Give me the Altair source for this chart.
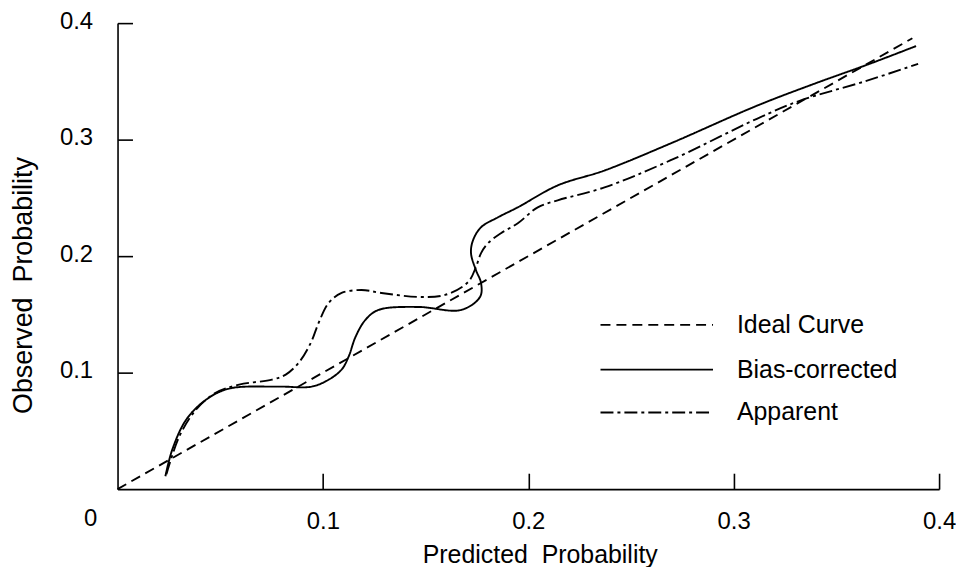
import altair as alt
import pandas as pd

# ---- data ----
series_names = ["Ideal Curve", "Bias-corrected", "Apparent"]
series_dash = [[10, 6], [1, 0], [13, 4, 3, 4]]

ideal_x = [0.0, 0.387]
ideal_y = [0.0, 0.387]

bias_x = [0.0233, 0.0267, 0.0335, 0.0432, 0.0543, 0.0785, 0.0945, 0.1028, 0.1091, 0.1125,
          0.1159, 0.1207, 0.1270, 0.1464, 0.1673, 0.1765, 0.1770, 0.1745, 0.1721, 0.1731,
          0.1770, 0.1852, 0.1949, 0.2143, 0.2371, 0.2691, 0.3113, 0.3404, 0.3661, 0.3888]
bias_y = [0.0111, 0.0342, 0.0598, 0.0769, 0.0863, 0.0880, 0.0880, 0.0940, 0.1026, 0.1137,
          0.1308, 0.1453, 0.1538, 0.1564, 0.1538, 0.1650, 0.1769, 0.1880, 0.2026, 0.2137,
          0.2248, 0.2333, 0.2419, 0.2607, 0.2735, 0.2966, 0.3291, 0.3487, 0.3650, 0.3803]

app_x = [0.0238, 0.0301, 0.0383, 0.0480, 0.0592, 0.0752, 0.0819, 0.0882, 0.0941, 0.0979,
         0.1028, 0.1091, 0.1188, 0.1285, 0.1464, 0.1595, 0.1707, 0.1745, 0.1770, 0.1804,
         0.1867, 0.1949, 0.2046, 0.2143, 0.2371, 0.2691, 0.3113, 0.3321, 0.3646, 0.3898]
app_y = [0.0128, 0.0453, 0.0684, 0.0829, 0.0897, 0.0940, 0.0983, 0.1085, 0.1256, 0.1427,
         0.1598, 0.1684, 0.1709, 0.1684, 0.1650, 0.1667, 0.1778, 0.1906, 0.2026, 0.2111,
         0.2197, 0.2282, 0.2419, 0.2479, 0.2590, 0.2821, 0.3179, 0.3333, 0.3504, 0.3650]

x_ticks = [0.1, 0.2, 0.3, 0.4]
y_ticks = [0.1, 0.2, 0.3, 0.4]
origin_label = ["0"]
x_title = "Predicted\u00a0 Probability"
y_title = "Observed\u00a0 Probability"

# ---- build table ----
rows = []
for name, xs, ys in zip(series_names, [ideal_x, bias_x, app_x], [ideal_y, bias_y, app_y]):
    for i, (xv, yv) in enumerate(zip(xs, ys)):
        rows.append({"series": name, "x": xv, "y": yv, "order": i})
df = pd.DataFrame(rows)
origin_df = pd.DataFrame({"x": [0.0], "y": [0.0], "t": origin_label})

FONT = "Liberation Sans"
W, H = 825, 468

xscale = alt.Scale(domain=[0, 0.4], nice=False, zero=False)
yscale = alt.Scale(domain=[0, 0.4], nice=False, zero=False)

lines = alt.Chart(df).mark_line(color="black", strokeWidth=1.9, interpolate="catmull-rom").encode(
    x=alt.X("x:Q", scale=xscale, axis=alt.Axis(
        orient="bottom", values=x_ticks, format=".1f", ticks=False, tickSize=0,
        domain=True, domainColor="black", domainWidth=1.6, grid=False,
        labelFont=FONT, labelFontSize=24, labelColor="black", labelPadding=40,
        labelBaseline="alphabetic", labelFlush=False,
        title=x_title, titleFont=FONT, titleFontSize=25,
        titleFontWeight="normal", titleColor="black", titleX=424, titleY=74,
        titleAlign="center", titleBaseline="alphabetic")),
    y=alt.Y("y:Q", scale=yscale, axis=alt.Axis(
        orient="left", values=y_ticks, format=".1f", ticks=False, tickSize=0,
        domain=True, domainColor="black", domainWidth=1.6, grid=False,
        labelFont=FONT, labelFontSize=24, labelColor="black", labelPadding=25,
        labelAlign="right", labelBaseline="alphabetic", labelOffset=5, labelFlush=False,
        title=y_title, titleFont=FONT, titleFontSize=27,
        titleFontWeight="normal", titleColor="black", titleAngle=270,
        titleX=-86, titleY=263, titleAlign="center", titleBaseline="alphabetic")),
    strokeDash=alt.StrokeDash("series:N",
        scale=alt.Scale(domain=series_names, range=series_dash), legend=None),
    order="order:Q",
)

# "0" label at the origin, plus inward-pointing tick marks drawn by extra axes
origin = alt.Chart(origin_df).mark_text(
    font=FONT, fontSize=24, color="black", dx=-27, dy=37,
    align="center", baseline="alphabetic").encode(
    x=alt.X("x:Q", scale=xscale, axis=alt.Axis(
        orient="top", offset=-H, values=x_ticks, labels=False, domain=False,
        ticks=True, tickSize=16, tickWidth=1.6, tickColor="black", grid=False, title=None)),
    y=alt.Y("y:Q", scale=yscale, axis=alt.Axis(
        orient="right", offset=-W, values=y_ticks, labels=False, domain=False,
        ticks=True, tickSize=15, tickWidth=1.6, tickColor="black", grid=False, title=None)),
    text="t:N",
)

# legend drawn as key lines with labels
legend_layers = []
LEG_X0, LEG_X1, LEG_TX = 485, 598, 622
legend_rows_y = [303, 348, 391]
for name, dash, ly in zip(series_names, series_dash, legend_rows_y):
    legend_layers.append(
        alt.Chart(origin_df).mark_rule(color="black", strokeWidth=1.9, strokeDash=dash).encode(
            x=alt.value(LEG_X0), x2=alt.value(LEG_X1), y=alt.value(ly)))
    legend_layers.append(
        alt.Chart(origin_df).mark_text(font=FONT, fontSize=25, color="black",
                                       align="left", baseline="middle").encode(
            x=alt.value(LEG_TX), y=alt.value(ly), text=alt.value(name)))

chart = alt.layer(lines, origin, *legend_layers).properties(
    width=W, height=H,
    padding={"left": 110, "top": 14, "right": 17, "bottom": 77},
    autosize=alt.AutoSizeParams(type="none"),
    background="white",
).configure_view(stroke=None)

chart.save("out.html", embed_options={"renderer": "svg", "actions": False})
